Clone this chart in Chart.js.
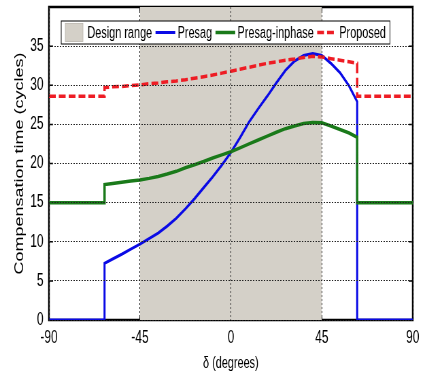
<!DOCTYPE html>
<html>
<head>
<meta charset="utf-8">
<script src="https://cdn.jsdelivr.net/npm/chart.js@4"></script>
<style>
  html, body { margin: 0; padding: 0; background: #fff; overflow: hidden; }
  /* the source figure was squeezed sideways, so the chart is drawn wide and squeezed the same way */
  #wrap { width: 622px; height: 375px; transform: scaleX(0.68); transform-origin: 0 0; }
</style>
</head>
<body>
<div id="wrap"><canvas id="compChart"></canvas></div>
<script>
const degrees = [-90, -62.5, -62.5, -58.5, -54, -49.5, -45, -40.5, -36, -31.5, -27, -22.5, -18, -13.5, -9, -4.5,
  0, 4.5, 9, 13.5, 18, 22.5, 27, 31.5, 36, 40.5, 45, 49.5, 54, 58.5, 62.5, 62.5, 90];
const presag = [0, 0, 7.25, 7.8, 8.4, 9.05, 9.7, 10.4, 11.1, 12.0, 13.0, 14.2, 15.5, 16.9, 18.3, 19.8,
  21.4, 23.3, 25.3, 27.0, 28.6, 30.3, 31.9, 33.1, 33.8, 34.05, 33.8, 32.8, 31.6, 29.9, 27.9, 0, 0];
const presagInphase = [15, 15, 17.3, 17.45, 17.6, 17.75, 17.9, 18.1, 18.35, 18.65, 19.0, 19.45, 19.85, 20.25, 20.7, 21.1,
  21.5, 22.0, 22.5, 23.0, 23.5, 24.0, 24.45, 24.8, 25.1, 25.25, 25.2, 24.8, 24.35, 23.9, 23.35, 15, 15];
const proposed = [28.6, 28.6, 29.7, 29.8, 29.85, 29.95, 30.05, 30.2, 30.3, 30.45, 30.55, 30.7, 30.9, 31.1, 31.3, 31.55,
  31.8, 32.05, 32.3, 32.55, 32.8, 33.0, 33.2, 33.35, 33.55, 33.7, 33.6, 33.4, 33.2, 33.0, 32.8, 28.6, 28.6];
const designRange = [-45, 45];
const xTicks = [-90, -45, 0, 45, 90];
const yTicks = [0, 5, 10, 15, 20, 25, 30, 35];
const yMax = 40;

const pts = vals => degrees.map((d, i) => ({ x: d, y: vals[i] }));
const FONT = '"Liberation Sans", Arial, sans-serif';

// matlab style box with inner tick marks, under the curves
const framePlugin = {
  id: 'frame',
  beforeDatasetsDraw(chart) {
    const { ctx, chartArea: a, scales } = chart;
    ctx.save();
    ctx.strokeStyle = '#000';
    ctx.lineWidth = 1.5;
    ctx.beginPath();
    xTicks.forEach(t => {
      const px = scales.x.getPixelForValue(t);
      ctx.moveTo(px, a.bottom); ctx.lineTo(px, a.bottom - 5);
      ctx.moveTo(px, a.top); ctx.lineTo(px, a.top + 5);
    });
    yTicks.forEach(t => {
      const py = scales.y.getPixelForValue(t);
      ctx.moveTo(a.left, py); ctx.lineTo(a.left + 6, py);
      ctx.moveTo(a.right, py); ctx.lineTo(a.right - 6, py);
    });
    ctx.stroke();
    ctx.lineWidth = 2.5;
    ctx.strokeRect(a.left, a.top, a.right - a.left, a.bottom - a.top);
    ctx.restore();
  },
  // legend box inside the axes
  afterDraw(chart) {
    const { ctx, chartArea: a } = chart;
    ctx.save();
    ctx.font = '16px ' + FONT;
    ctx.textBaseline = 'middle';
    const sample = 29, gap = 3.5, pad = 6;
    const ds = chart.data.datasets;
    let w = pad * 2;
    ds.forEach((d, i) => { w += sample + gap + ctx.measureText(d.label).width + (i < ds.length - 1 ? 5 : 0); });
    const bx = a.left + 18, by = a.top + 14, bh = 23;
    ctx.fillStyle = '#fff';
    ctx.fillRect(bx, by, w, bh);
    ctx.lineWidth = 1;
    ctx.strokeStyle = '#000';
    ctx.strokeRect(bx, by, w, bh);
    const cy = by + bh / 2;
    let x = bx + pad;
    ds.forEach(d => {
      if (d.fill) {
        ctx.fillStyle = d.backgroundColor;
        ctx.fillRect(x, cy - 9, sample - 3, 18);
        ctx.strokeStyle = '#b8b4ac';
        ctx.lineWidth = 0.8;
        ctx.strokeRect(x, cy - 9, sample - 3, 18);
      } else {
        ctx.strokeStyle = d.borderColor;
        ctx.lineWidth = d.borderWidth;
        ctx.setLineDash(d.borderDash || []);
        ctx.beginPath();
        ctx.moveTo(x, cy); ctx.lineTo(x + sample, cy);
        ctx.stroke();
        ctx.setLineDash([]);
      }
      x += sample + gap;
      ctx.fillStyle = '#000';
      ctx.fillText(d.label, x, cy + 1);
      x += ctx.measureText(d.label).width + 5;
    });
    ctx.restore();
  }
};

new Chart(document.getElementById('compChart'), {
  type: 'line',
  data: {
    datasets: [
      {
        label: 'Design range',
        data: designRange.map(d => ({ x: d, y: yMax })),
        fill: 'origin',
        backgroundColor: '#d4d0c8',
        borderWidth: 0,
        pointRadius: 0,
        order: 4
      },
      {
        label: 'Presag',
        data: pts(presag),
        borderColor: '#0a0ae6',
        borderWidth: 3,
        pointRadius: 0,
        order: 3
      },
      {
        label: 'Presag-inphase',
        data: pts(presagInphase),
        borderColor: '#1a7a1a',
        borderWidth: 3.5,
        pointRadius: 0,
        order: 2
      },
      {
        label: 'Proposed',
        data: pts(proposed),
        borderColor: '#ee1c24',
        borderWidth: 3.5,
        borderDash: [10, 4.5],
        pointRadius: 0,
        order: 1
      }
    ]
  },
  options: {
    responsive: true,
    maintainAspectRatio: false,
    animation: false,
    layout: { padding: { top: 7, right: 15, left: 0, bottom: 0 } },
    scales: {
      x: {
        type: 'linear',
        min: -90,
        max: 90,
        afterBuildTicks: s => { s.ticks = xTicks.map(v => ({ value: v })); },
        afterFit: s => { s.height = 55; s.paddingLeft = 0; s.paddingRight = 0; },
        ticks: { color: '#000', padding: 8, font: { family: FONT, size: 17.5 } },
        grid: { color: '#222', lineWidth: 1, drawTicks: false, z: 1 },
        border: { display: false, dash: [2, 2] },
        title: { display: true, text: 'δ (degrees)', color: '#000', font: { family: FONT, size: 16 }, padding: { top: 0, bottom: 2 } }
      },
      y: {
        min: 0,
        max: yMax,
        afterBuildTicks: s => { s.ticks = yTicks.map(v => ({ value: v })); },
        afterFit: s => { s.width = 72; s.paddingTop = 0; s.paddingBottom = 0; },
        ticks: { color: '#000', padding: 8, font: { family: FONT, size: 17.5 } },
        grid: { color: '#222', lineWidth: 1, drawTicks: false, z: 1 },
        border: { display: false, dash: [2, 2] },
        title: { display: true, text: 'Compensation time (cycles)', color: '#000', font: { family: FONT, size: 18 }, padding: { top: 18, bottom: 0 } }
      }
    },
    plugins: {
      legend: { display: false },
      tooltip: { enabled: false }
    }
  },
  plugins: [framePlugin]
});
</script>
</body>
</html>
